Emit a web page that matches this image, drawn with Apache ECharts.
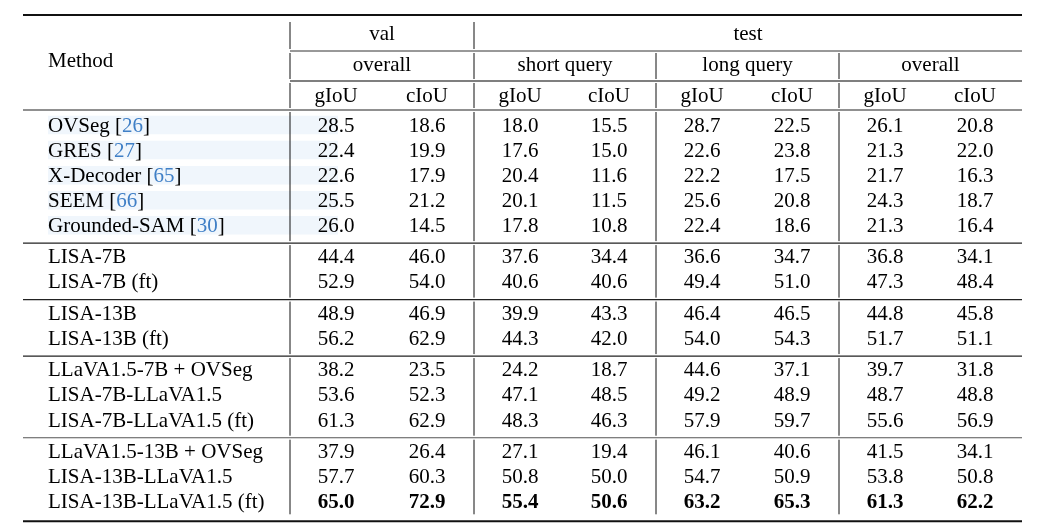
<!DOCTYPE html>
<html>
<head>
<meta charset="utf-8">
<script src="https://cdn.jsdelivr.net/npm/echarts@6/dist/echarts.min.js"></script>
<style>html,body{margin:0;padding:0;background:#fff;}#c{width:1056px;height:526px;}</style>
</head>
<body>
<div id="c"></div>
<script>
// ---------------- DATA ----------------
const methods = ['OVSeg', 'GRES', 'X-Decoder', 'SEEM', 'Grounded-SAM',
  'LISA-7B', 'LISA-7B (ft)',
  'LISA-13B', 'LISA-13B (ft)',
  'LLaVA1.5-7B + OVSeg', 'LISA-7B-LLaVA1.5', 'LISA-7B-LLaVA1.5 (ft)',
  'LLaVA1.5-13B + OVSeg', 'LISA-13B-LLaVA1.5', 'LISA-13B-LLaVA1.5 (ft)'];
const refs = ['26', '27', '65', '66', '30', '', '', '', '', '', '', '', '', '', ''];
const blockSizes = [5, 2, 2, 3, 3];
const boldRows = [14];

const valGIoU     = ['28.5','22.4','22.6','25.5','26.0','44.4','52.9','48.9','56.2','38.2','53.6','61.3','37.9','57.7','65.0'];
const valCIoU     = ['18.6','19.9','17.9','21.2','14.5','46.0','54.0','46.9','62.9','23.5','52.3','62.9','26.4','60.3','72.9'];
const shortGIoU   = ['18.0','17.6','20.4','20.1','17.8','37.6','40.6','39.9','44.3','24.2','47.1','48.3','27.1','50.8','55.4'];
const shortCIoU   = ['15.5','15.0','11.6','11.5','10.8','34.4','40.6','43.3','42.0','18.7','48.5','46.3','19.4','50.0','50.6'];
const longGIoU    = ['28.7','22.6','22.2','25.6','22.4','36.6','49.4','46.4','54.0','44.6','49.2','57.9','46.1','54.7','63.2'];
const longCIoU    = ['22.5','23.8','17.5','20.8','18.6','34.7','51.0','46.5','54.3','37.1','48.9','59.7','40.6','50.9','65.3'];
const overallGIoU = ['26.1','21.3','21.7','24.3','21.3','36.8','47.3','44.8','51.7','39.7','48.7','55.6','41.5','53.8','61.3'];
const overallCIoU = ['20.8','22.0','16.3','18.7','16.4','34.1','48.4','45.8','51.1','31.8','48.8','56.9','34.1','50.8','62.2'];
const valueColumns = [valGIoU, valCIoU, shortGIoU, shortCIoU, longGIoU, longCIoU, overallGIoU, overallCIoU];

const methodHeader = 'Method';
const topHeaders = ['val', 'test'];
const midHeaders = ['overall', 'short query', 'long query', 'overall'];
const metricHeaders = ['gIoU', 'cIoU', 'gIoU', 'cIoU', 'gIoU', 'cIoU', 'gIoU', 'cIoU'];

// ---------------- LAYOUT ----------------
const W = 1056, H = 526;
const FONT = 'Liberation Serif, Times New Roman, serif';
const FS = 21;
const REF_COLOR = '#3f7fc6';
const tableLeft = 23, tableRight = 1022, methodX = 48;
const groupEdges = [290, 474, 656, 839, 1022];
const colOffset = 46;
const colCenters = [];
for (let g = 0; g < 4; g++) {
  colCenters.push(groupEdges[g] + colOffset, groupEdges[g + 1] - colOffset - 1);
}
const firstBase = 131, rowStep = 25.1, blockGap = 6.3, baseToMid = 5;
const blockOf = [];
blockSizes.forEach((n, b) => { for (let k = 0; k < n; k++) blockOf.push(b); });
const rowBase = i => firstBase + rowStep * i + blockGap * blockOf[i];

// ---------------- CELLS ----------------
const cells = [];
function addCell(x, base, text, align, bold, rich) {
  cells.push({ x: x, y: base - baseToMid, text: text, align: align, bold: !!bold, rich: !!rich });
}
addCell(methodX, 66.7, methodHeader, 'left');
addCell((groupEdges[0] + groupEdges[1]) / 2, 39.5, topHeaders[0], 'center');
addCell((groupEdges[1] + groupEdges[4]) / 2, 39.5, topHeaders[1], 'center');
midHeaders.forEach((t, g) => addCell((groupEdges[g] + groupEdges[g + 1]) / 2, 70, t, 'center'));
metricHeaders.forEach((t, c) => addCell(colCenters[c], 101, t, 'center'));
methods.forEach((m, i) => {
  const b = rowBase(i);
  if (refs[i]) addCell(methodX, b, '{n|' + m + ' [}{r|' + refs[i] + '}{n|]}', 'left', false, true);
  else addCell(methodX, b, m, 'left');
  valueColumns.forEach((col, c) => addCell(colCenters[c], b, col[i], 'center', boldRows.indexOf(i) >= 0));
});

// ---------------- RULES ----------------
const ruleAfter = [];
let acc = 0;
blockSizes.forEach((n, b) => { acc += n; ruleAfter.push(rowBase(acc - 1) + 11.7); });
const hLines = [];
hLines.push([tableLeft, 15, tableRight, 15, 2, '#111']);
hLines.push([groupEdges[0], 51, tableRight, 51, 1, '#333']);
hLines.push([groupEdges[0], 81, tableRight, 81, 1.6, '#555']);
hLines.push([tableLeft, 110, tableRight, 110, 1.2, '#222']);
ruleAfter.forEach((y, k) => {
  if (k < ruleAfter.length - 1) hLines.push([tableLeft, y, tableRight, y, 1.1, k === 3 ? '#555' : '#222']);
  else hLines.push([tableLeft, y + 2, tableRight, y + 2, 2, '#111']);
});
const cuts = [51, 81, 110].concat(ruleAfter.slice(0, -1));
const vLines = [];
groupEdges.slice(0, 4).forEach((x, g) => {
  let start = g < 2 ? 22 : 53;
  cuts.forEach(cy => {
    if (cy > start + 2) { vLines.push([x, start, x, cy - 2, 1, '#111']); start = cy + 2; }
  });
  vLines.push([x, start, x, ruleAfter[ruleAfter.length - 1] - 5, 1, '#111']);
});
const lineData = hLines.concat(vLines);

// highlight bands behind first block
const bands = [];
for (let i = 0; i < blockSizes[0]; i++) bands.push([methodX, rowBase(i) - 15.3, 338, rowBase(i) + 3.2]);

// ---------------- CHART ----------------
const chart = echarts.init(document.getElementById('c'), null, { renderer: 'canvas' });
const richStyle = {
  n: { fill: '#000', fontFamily: FONT, fontSize: FS },
  r: { fill: REF_COLOR, fontFamily: FONT, fontSize: FS }
};
chart.setOption({
  animation: false,
  backgroundColor: '#fff',
  grid: { left: 0, right: 0, top: 0, bottom: 0 },
  xAxis: { type: 'value', min: 0, max: W, show: false },
  yAxis: { type: 'value', min: 0, max: H, inverse: true, show: false },
  series: [
    {
      type: 'custom', silent: true, z: 1,
      data: bands,
      renderItem: function (params, api) {
        const p1 = api.coord([api.value(0), api.value(1)]);
        const p2 = api.coord([api.value(2), api.value(3)]);
        return { type: 'rect', shape: { x: p1[0], y: p1[1], width: p2[0] - p1[0], height: p2[1] - p1[1] },
                 style: { fill: '#f0f6fc' } };
      }
    },
    {
      type: 'custom', silent: true, z: 2,
      data: lineData.map(l => [l[0], l[1], l[2], l[3]]),
      renderItem: function (params, api) {
        const l = lineData[params.dataIndex];
        const p1 = api.coord([api.value(0), api.value(1)]);
        const p2 = api.coord([api.value(2), api.value(3)]);
        return { type: 'line', shape: { x1: p1[0], y1: p1[1], x2: p2[0], y2: p2[1] },
                 style: { stroke: l[5], lineWidth: l[4] } };
      }
    },
    {
      type: 'custom', silent: true, z: 3,
      data: cells.map(c => [c.x, c.y]),
      renderItem: function (params, api) {
        const c = cells[params.dataIndex];
        const p = api.coord([api.value(0), api.value(1)]);
        const style = {
          text: c.text, fontFamily: FONT, fontSize: FS,
          fontWeight: c.bold ? 'bold' : 'normal', fill: '#000',
          align: c.align, verticalAlign: 'middle'
        };
        if (c.rich) style.rich = richStyle;
        return { type: 'text', x: p[0], y: p[1], style: style };
      }
    }
  ]
});
</script>
</body>
</html>
